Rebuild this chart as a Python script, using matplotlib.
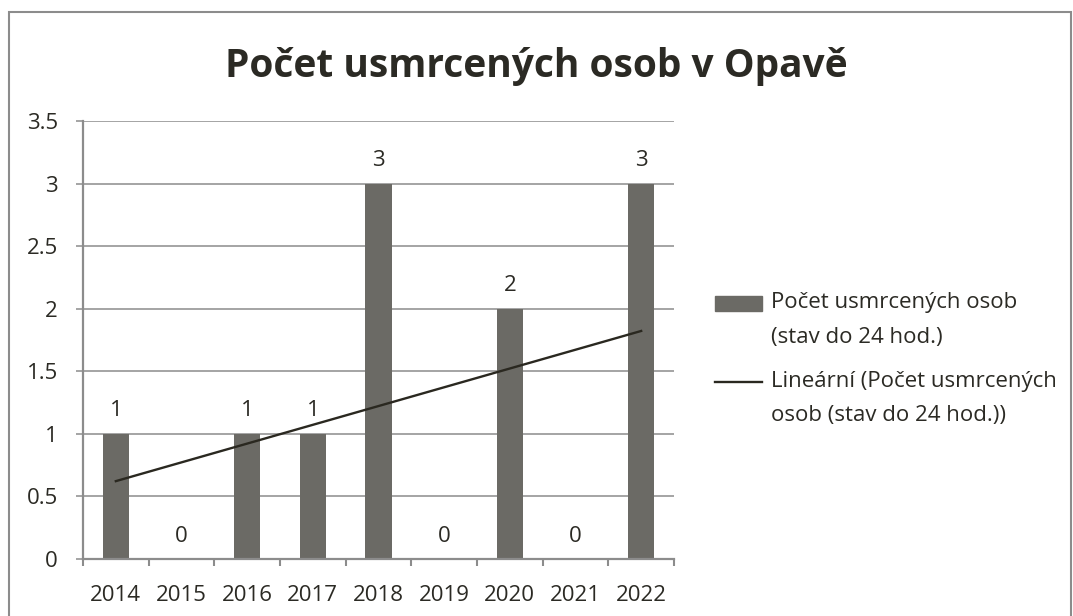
import numpy as np
import matplotlib
matplotlib.use("Agg")
import matplotlib.pyplot as plt
from matplotlib.patches import Rectangle
from matplotlib.lines import Line2D

years = ["2014", "2015", "2016", "2017", "2018", "2019", "2020", "2021", "2022"]
deaths = [1, 0, 1, 1, 3, 0, 2, 0, 3]
title = "Počet usmrcených osob v Opavě"
bar_label = ["Počet usmrcených osob", "(stav do 24 hod.)"]
trend_label = ["Lineární (Počet usmrcených", "osob (stav do 24 hod.))"]

plt.rcParams["font.family"] = ["Open Sans", "DejaVu Sans"]
TXT = "#2b2a24"
BAR = "#6b6a65"
GRID = "#8c8c8c"
FS = 16

W, H = 1073, 616
fig = plt.figure(figsize=(W / 100, H / 100), dpi=100)
ax = fig.add_axes([83 / W, 1 - 559 / H, (674 - 83) / W, (559 - 121) / H])

x = np.arange(len(years))
y = np.array(deaths, dtype=float)
ax.bar(x, y, width=0.4, color=BAR, zorder=3)

# linear trend over category index (1..n)
k, q = np.polyfit(x + 1, y, 1)
ax.plot(x, k * (x + 1) + q, color="#2a2820", lw=1.7, zorder=4)

for xi, v in zip(x, deaths):
    ax.annotate(str(v), (xi, v), xytext=(0, 16.5), textcoords="offset points",
                ha="center", va="center", fontsize=FS, color=TXT)

ax.set_xlim(-0.5, len(years) - 0.5)
ax.set_ylim(0, 3.5)
ax.set_yticks(np.arange(0, 3.51, 0.5))
ax.set_yticklabels(["0", "0.5", "1", "1.5", "2", "2.5", "3", "3.5"])
ax.set_xticks(x)
ax.set_xticklabels(years)
ax.set_xticks(np.arange(-0.5, len(years), 1), minor=True)
ax.tick_params(axis="x", which="major", length=0, pad=19, labelsize=FS, labelcolor=TXT)
ax.tick_params(axis="x", which="minor", length=5, width=1.5, color=GRID)
ax.tick_params(axis="y", length=5, width=1.1, color=GRID, pad=13, labelsize=FS, labelcolor=TXT)
ax.yaxis.grid(True, color=GRID, lw=1.1, zorder=0)
ax.set_axisbelow(True)
for s in ["top", "right"]:
    ax.spines[s].set_visible(False)
for s in ["left", "bottom"]:
    ax.spines[s].set_color(GRID)
    ax.spines[s].set_linewidth(1.6)
    ax.spines[s].set_zorder(5)

fig.text(0.5, 1 - 66 / H, title, ha="center", va="center",
         fontsize=28, fontweight="bold", color=TXT)

# chart area border
fig.add_artist(Rectangle((9 / W, -0.1), (1071 - 9) / W, 1.1 - 12 / H,
                         transform=fig.transFigure, fill=False,
                         edgecolor=GRID, lw=1.5))

# legend
fig.add_artist(Rectangle((715 / W, 1 - 311 / H), 47 / W, 15 / H,
                         transform=fig.transFigure, color=BAR))
fig.add_artist(Line2D([715 / W, 762 / W], [1 - 382 / H, 1 - 382 / H],
                      transform=fig.transFigure, color="#2a2820", lw=1.7))
for lines, y0 in [(bar_label, 303), (trend_label, 382)]:
    for i, line in enumerate(lines):
        fig.text(771 / W, 1 - (y0 + 34 * i) / H, line, ha="left", va="center",
                 fontsize=FS, color=TXT)

fig.savefig("out.png", dpi=100)
